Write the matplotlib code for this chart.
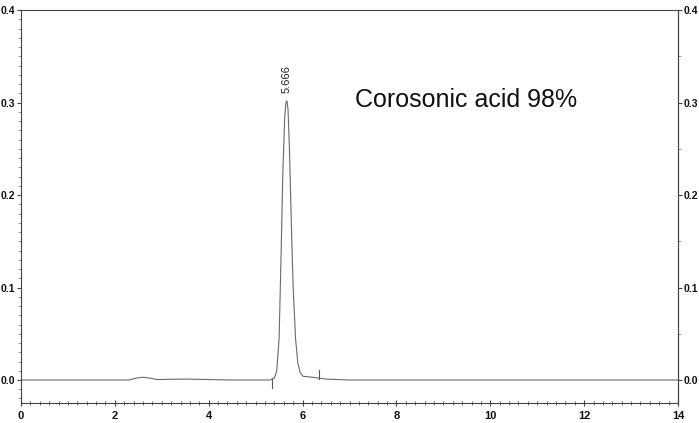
import matplotlib.pyplot as plt
from matplotlib.ticker import MultipleLocator

czas = [0.0, 1.0, 2.3, 2.45, 2.6, 2.75, 2.9, 3.5, 4.5, 5.3, 5.40, 5.45, 5.50,
        5.54, 5.58, 5.62, 5.645, 5.666, 5.69, 5.72, 5.76, 5.80, 5.85, 5.90,
        5.95, 6.01, 6.2, 6.35, 6.5, 7.0, 10.0, 14.0]
sygnal = [0.000, 0.000, 0.000, 0.002, 0.003, 0.002, 0.0005, 0.001, 0.000,
          0.000, 0.002, 0.010, 0.045, 0.130, 0.225, 0.285, 0.300, 0.302,
          0.293, 0.250, 0.170, 0.100, 0.045, 0.018, 0.008, 0.004, 0.003,
          0.002, 0.001, 0.000, 0.000, 0.000]

czas_piku = 5.666
wysokosc_piku = 0.302
znaczniki_x = [5.34, 6.35]
znaczniki_od = [-0.009, 0.001]
znaczniki_do = [0.001, 0.011]
opis = "Corosonic acid 98%"
y_ticki = [0.0, 0.1, 0.2, 0.3, 0.4]
x_ticki = [0, 2, 4, 6, 8, 10, 12, 14]

plt.rcParams["font.family"] = ["Liberation Sans", "DejaVu Sans"]

fig = plt.figure(figsize=(6.99, 4.23), dpi=100)
ax = fig.add_axes([0.030, 0.047, 0.940, 0.929])

ax.plot(czas, sygnal, color="#6a6a6a", lw=0.8)
for x, y0, y1 in zip(znaczniki_x, znaczniki_od, znaczniki_do):
    ax.plot([x, x], [y0, y1], color="#555555", lw=0.8)

ax.text(czas_piku, wysokosc_piku + 0.008, f"{czas_piku:.3f}", rotation=90,
        ha="center", va="bottom", fontsize=8, color="#222222")
ax.text(7.12, 0.303, opis, fontsize=18, ha="left", va="center", color="#111111")

ax.set_xlim(0, 14)
ax.set_ylim(-0.025, 0.4)

for s in ax.spines.values():
    s.set_color("#444444")
    s.set_linewidth(0.8)

ax.set_xticks(x_ticki)
ax.xaxis.set_minor_locator(MultipleLocator(0.2))
ax.set_yticks(y_ticki, [f"{v:.1f}" for v in y_ticki])
ax.yaxis.set_minor_locator(MultipleLocator(0.01))
ax.tick_params(axis="x", which="major", direction="inout", length=5, width=0.8,
               labelsize=8, pad=3, colors="#444444", labelcolor="#111111")
ax.tick_params(axis="x", which="minor", direction="inout", length=3, width=0.6,
               colors="#555555")
ax.tick_params(axis="y", which="major", direction="out", length=3, width=0.8,
               labelsize=7.5, pad=1, colors="#444444", labelcolor="#111111")
ax.tick_params(axis="y", which="minor", direction="out", length=2, width=0.5,
               colors="#666666")
for lab in ax.get_xticklabels() + ax.get_yticklabels():
    lab.set_fontweight("bold")

prawa = ax.secondary_yaxis("right")
prawa.set_yticks(y_ticki, [f"{v:.1f}" for v in y_ticki])
prawa.yaxis.set_minor_locator(MultipleLocator(0.05))
prawa.spines["right"].set_color("#444444")
prawa.tick_params(axis="y", which="major", direction="out", length=3, width=0.8,
                  labelsize=7.5, pad=1, colors="#444444", labelcolor="#111111")
prawa.tick_params(axis="y", which="minor", direction="out", length=2, width=0.5,
                  colors="#777777")
for lab in prawa.get_yticklabels():
    lab.set_fontweight("bold")

fig.savefig("out.png", dpi=100)
